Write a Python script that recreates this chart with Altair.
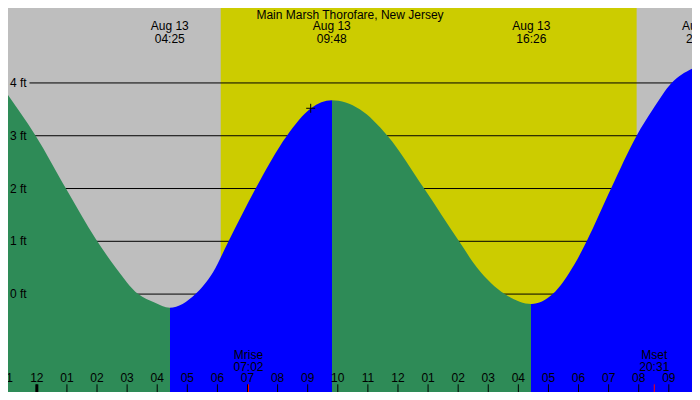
import altair as alt
import pandas as pd

W, H = 684, 384
X0, X1 = -0.958, 21.77   # hours from midnight, Aug 13
Y0, Y1 = -1.855, 5.42    # feet

FONT = "Liberation Sans"
FS = 12
GREEN = "#2E8B57"
BLUE = "#0000FF"

title = "Main Marsh Thorofare, New Jersey"

# tide height
tide_hours = [-0.958, -0.53, -0.04, 0.968, 1.964, 2.61, 3.37, 3.91, 4.417,
              5.27, 5.86, 6.37, 7.27, 8.31, 9.11, 9.8,
              10.73, 11.65, 12.87, 14.03, 14.63, 15.55, 16.433,
              17.14, 17.87, 18.27, 19.08, 19.93, 20.47, 21.09, 21.77]
tide_feet = [3.77, 3.42, 3.0, 2.0, 1.04, 0.51, 0.0, -0.16, -0.26,
             0.0, 0.42, 1.0, 2.0, 3.0, 3.52, 3.67,
             3.50, 3.0, 2.0, 1.0, 0.5, 0.0, -0.19,
             0.0, 0.57, 1.0, 2.0, 3.0, 3.5, 4.0, 4.27]

# highs / lows
ext_hours = [4.417, 9.8, 16.433, 22.067]
ext_times = ["04:25", "09:48", "16:26", "22:04"]
ext_date = "Aug 13"

sunrise, sunset = 6.11, 19.93

moon_hours = [7.033, 20.517]
moon_names = ["Mrise", "Mset"]
moon_times = ["07:02", "20:31"]

now_hour, now_feet = 9.1, 3.52

grid_feet = [0, 1, 2, 3, 4]
grid_labels = ["0 ft", "1 ft", "2 ft", "3 ft", "4 ft"]

tick_hours = list(range(-1, 22))
tick_labels = ["11", "12", "01", "02", "03", "04", "05", "06", "07", "08",
               "09", "10", "11", "12", "01", "02", "03", "04", "05", "06",
               "07", "08", "09"]


def py(v):
    # pixel position given on the 400px tall reference
    return v * H / 400


def off(h):
    return (h - X0) / (X1 - X0)


xs = alt.Scale(domain=[X0, X1], nice=False, zero=False)
ys = alt.Scale(domain=[Y0, Y1], nice=False, zero=False)

tide = pd.DataFrame({"hour": tide_hours, "feet": tide_feet})
ext = pd.DataFrame({"hour": ext_hours, "time": ext_times, "date": ext_date})
moon = pd.DataFrame({"hour": moon_hours, "name": moon_names, "time": moon_times})
grid = pd.DataFrame({"feet": grid_feet, "label": grid_labels})
ticks = pd.DataFrame({"hour": tick_hours, "label": tick_labels})

# falling tide green, rising tide blue, switching at each high / low
stops = [alt.GradientStop(color=GREEN, offset=0)]
cur = GREEN
for h in ext_hours:
    if X0 < h < X1:
        stops.append(alt.GradientStop(color=cur, offset=off(h)))
        cur = BLUE if cur == GREEN else GREEN
        stops.append(alt.GradientStop(color=cur, offset=off(h)))
stops.append(alt.GradientStop(color=cur, offset=1))

daylight = (
    alt.Chart(pd.DataFrame({"a": [sunrise], "b": [sunset]}))
    .mark_rect(color="#CCCC00")
    .encode(x=alt.X("a:Q", scale=xs, axis=None), x2="b:Q",
            y=alt.value(0), y2=alt.value(H))
)

grid_lines = (
    alt.Chart(grid)
    .mark_rule(color="black", strokeWidth=1)
    .encode(y=alt.Y("feet:Q", scale=ys, axis=None),
            x=alt.value(22 * W / 700), x2=alt.value(W))
)

area = (
    alt.Chart(tide)
    .mark_area(interpolate="monotone",
               color=alt.Gradient(gradient="linear", stops=stops,
                                  x1=0, x2=1, y1=0, y2=0))
    .encode(x=alt.X("hour:Q", scale=xs, axis=None),
            y=alt.Y("feet:Q", scale=ys, axis=None, stack=None),
            y2=alt.value(H))
)

grid_text = (
    alt.Chart(grid)
    .mark_text(align="left", baseline="middle", font=FONT, fontSize=FS,
               color="black")
    .encode(y=alt.Y("feet:Q", scale=ys, axis=None), x=alt.value(2),
            text="label:N")
)

now_mark = (
    alt.Chart(pd.DataFrame({"hour": [now_hour], "feet": [now_feet]}))
    .mark_point(shape="M-1,0L1,0M0,-1L0,1", filled=False, stroke="black",
                strokeWidth=1, size=81, opacity=1)
    .encode(x=alt.X("hour:Q", scale=xs, axis=None),
            y=alt.Y("feet:Q", scale=ys, axis=None))
)

ext_date_text = (
    alt.Chart(ext)
    .mark_text(baseline="middle", font=FONT, fontSize=FS, color="black")
    .encode(x=alt.X("hour:Q", scale=xs, axis=None), y=alt.value(py(19)),
            text="date:N")
)
ext_time_text = ext_date_text.encode(y=alt.value(py(32)), text="time:N")

title_text = (
    alt.Chart(pd.DataFrame({"t": [title]}))
    .mark_text(baseline="middle", font=FONT, fontSize=FS, color="black")
    .encode(x=alt.value(W / 2), y=alt.value(py(7.5)), text="t:N")
)

hour_ticks = (
    alt.Chart(ticks)
    .mark_rule(color="black", strokeWidth=1)
    .encode(x=alt.X("hour:Q", scale=xs, axis=None),
            y=alt.value(py(392)), y2=alt.value(H))
)
midnight_tick = hour_ticks.transform_filter("datum.hour % 24 == 0").mark_rule(
    color="black", strokeWidth=3)
hour_text = (
    alt.Chart(ticks)
    .mark_text(baseline="middle", font=FONT, fontSize=FS, color="black")
    .encode(x=alt.X("hour:Q", scale=xs, axis=None), y=alt.value(py(385.5)),
            text="label:N")
)

moon_ticks = (
    alt.Chart(moon)
    .mark_rule(color="red", strokeWidth=1)
    .encode(x=alt.X("hour:Q", scale=xs, axis=None),
            y=alt.value(py(392)), y2=alt.value(H))
)
moon_name = (
    alt.Chart(moon)
    .mark_text(baseline="middle", font=FONT, fontSize=FS, color="black")
    .encode(x=alt.X("hour:Q", scale=xs, axis=None), y=alt.value(py(361)),
            text="name:N")
)
moon_time = moon_name.encode(y=alt.value(py(373.5)), text="time:N")

chart = (
    alt.layer(daylight, grid_lines, area, grid_text, now_mark,
              ext_date_text, ext_time_text, title_text,
              hour_ticks, midnight_tick, moon_ticks, hour_text,
              moon_name, moon_time)
    .properties(width=W, height=H, background="#BEBEBE", padding=0,
                autosize="none")
    .configure_view(strokeWidth=0)
)

chart.save("out.html", embed_options={"renderer": "svg", "actions": False})
